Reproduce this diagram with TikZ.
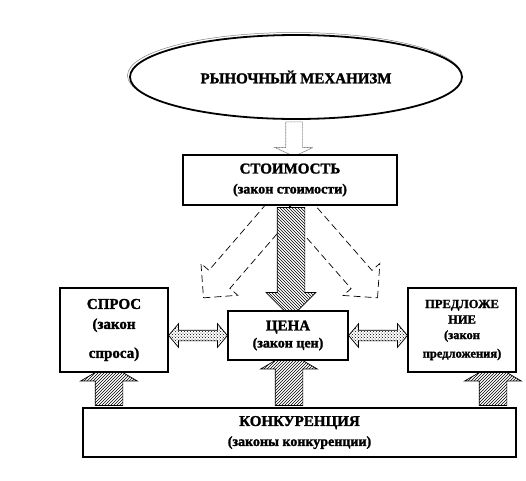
\documentclass[tikz,border=0pt]{standalone}
\usepackage{fontspec}
\setmainfont{Liberation Serif}[BoldFeatures={FakeBold=1.6}]
\usetikzlibrary{shapes.geometric,shapes.arrows,patterns,calc,backgrounds}

\tikzset{
	box/.style={draw,line width=1.2pt,fill=white,align=center,inner sep=0pt},
	blockarr/.style={single arrow,draw,inner xsep=0pt,line width=0.7pt},
	uparr/.style={blockarr,preaction={fill=white},pattern=north east lines,inner ysep=13.5pt,single arrow head extend=14.5pt,single arrow tip angle=120},
	downarr/.style={blockarr,preaction={fill=white},pattern=north west lines,inner ysep=13.5pt,single arrow head extend=11pt,single arrow tip angle=90},
	toparr/.style={blockarr,draw=gray,fill=white,dash pattern=on 1pt off 0.5pt,inner ysep=8pt,single arrow head extend=10.5pt,single arrow tip angle=130},
	dasharr/.style={blockarr,dash pattern=on 7pt off 4pt,inner ysep=13.5pt,single arrow head extend=10.5pt,single arrow tip angle=90},
	dblarr/.style={double arrow,draw,line width=0.7pt,preaction={fill=white},pattern=crosshatch dots,inner xsep=0pt,inner ysep=5pt,double arrow head extend=6.5pt,double arrow tip angle=100}
}

% block arrow from tail #2 to tip #3
\newcommand{\blockarrow}[3]{%
	\path let \p1=#2, \p2=#3, \n1={veclen(\x2-\x1,\y2-\y1)}, \n2={atan2(\y2-\y1,\x2-\x1)} in
		node[#1,minimum height=\n1,rotate=\n2] at ($(\p1)!.5!(\p2)$) {};}

\begin{document}
\begin{tikzpicture}[x=1pt,y=-1pt]
	\useasboundingbox (0,0) rectangle (526,480);
	\node[ellipse,draw,line width=1.8pt,fill=white,minimum width=332pt,minimum height=84pt,inner sep=0pt,font=\bfseries\fontsize{15}{18}\selectfont] (mech) at (296,77) {РЫНОЧНЫЙ МЕХАНИЗМ};
	%
	\node[box,minimum width=214pt,minimum height=50pt,font=\bfseries\fontsize{15}{18}\selectfont] (stoim) at (290,180) {СТОИМОСТЬ\\[2pt]\fontsize{14}{18}\selectfont(закон стоимости)};
	\node[box,minimum width=120pt,minimum height=49pt,font=\bfseries\fontsize{15}{17}\selectfont] (cena) at (288,335.5) {ЦЕНА\\\fontsize{14}{17}\selectfont(закон цен)};
	%
	\node[box,minimum width=108pt,minimum height=84pt,font=\bfseries\fontsize{15}{20}\selectfont] (spros) at (114,330) {СПРОС\\(закон\\[9pt]спроса)};
	\node[box,minimum width=108pt,minimum height=84pt,font=\bfseries\fontsize{12.5}{15.5}\selectfont] (predl) at (462,330) {ПРЕДЛОЖЕ\\НИЕ\\(закон\\[3pt]предложения)};
	%
	\node[box,minimum width=433pt,minimum height=49pt,font=\bfseries\fontsize{15}{20}\selectfont] (konk) at (299.5,432.5) {КОНКУРЕНЦИЯ\\\fontsize{14}{20}\selectfont(законы конкуренции)};
	%
	\begin{scope}[on background layer]
		\draw[gray,line width=0.5pt] (294.5,75.5) ellipse [x radius=167pt,y radius=43pt];
		\blockarrow{toparr}{(mech.south -| 294,0)}{(stoim.north -| 294,0)}
		\blockarrow{dasharr}{($(stoim.south)+(0,-8)$)}{($(stoim.south)+(-82,87)$)}
		\blockarrow{dasharr}{($(stoim.south)+(0,-8)$)}{($(stoim.south)+(83,87)$)}
		\blockarrow{downarr}{($(stoim.south -| 291,0)+(0,-5)$)}{(cena.north -| 291,0)}
		%
		\blockarrow{dblarr}{(spros.east |- cena.west)}{(cena.west)}
		\blockarrow{dblarr}{(cena.east)}{(predl.west |- cena.east)}
		%
		\blockarrow{uparr}{($(konk.north -| 109,0)+(0,2)$)}{($(spros.south -| 109,0)+(0,-4)$)}
		\blockarrow{uparr}{($(konk.north -| 289,0)+(0,2)$)}{($(cena.south -| 289,0)+(0,-4)$)}
		\blockarrow{uparr}{($(konk.north -| 493,0)+(0,2)$)}{($(predl.south -| 493,0)+(0,-4)$)}
	\end{scope}
\end{tikzpicture}
\end{document}
